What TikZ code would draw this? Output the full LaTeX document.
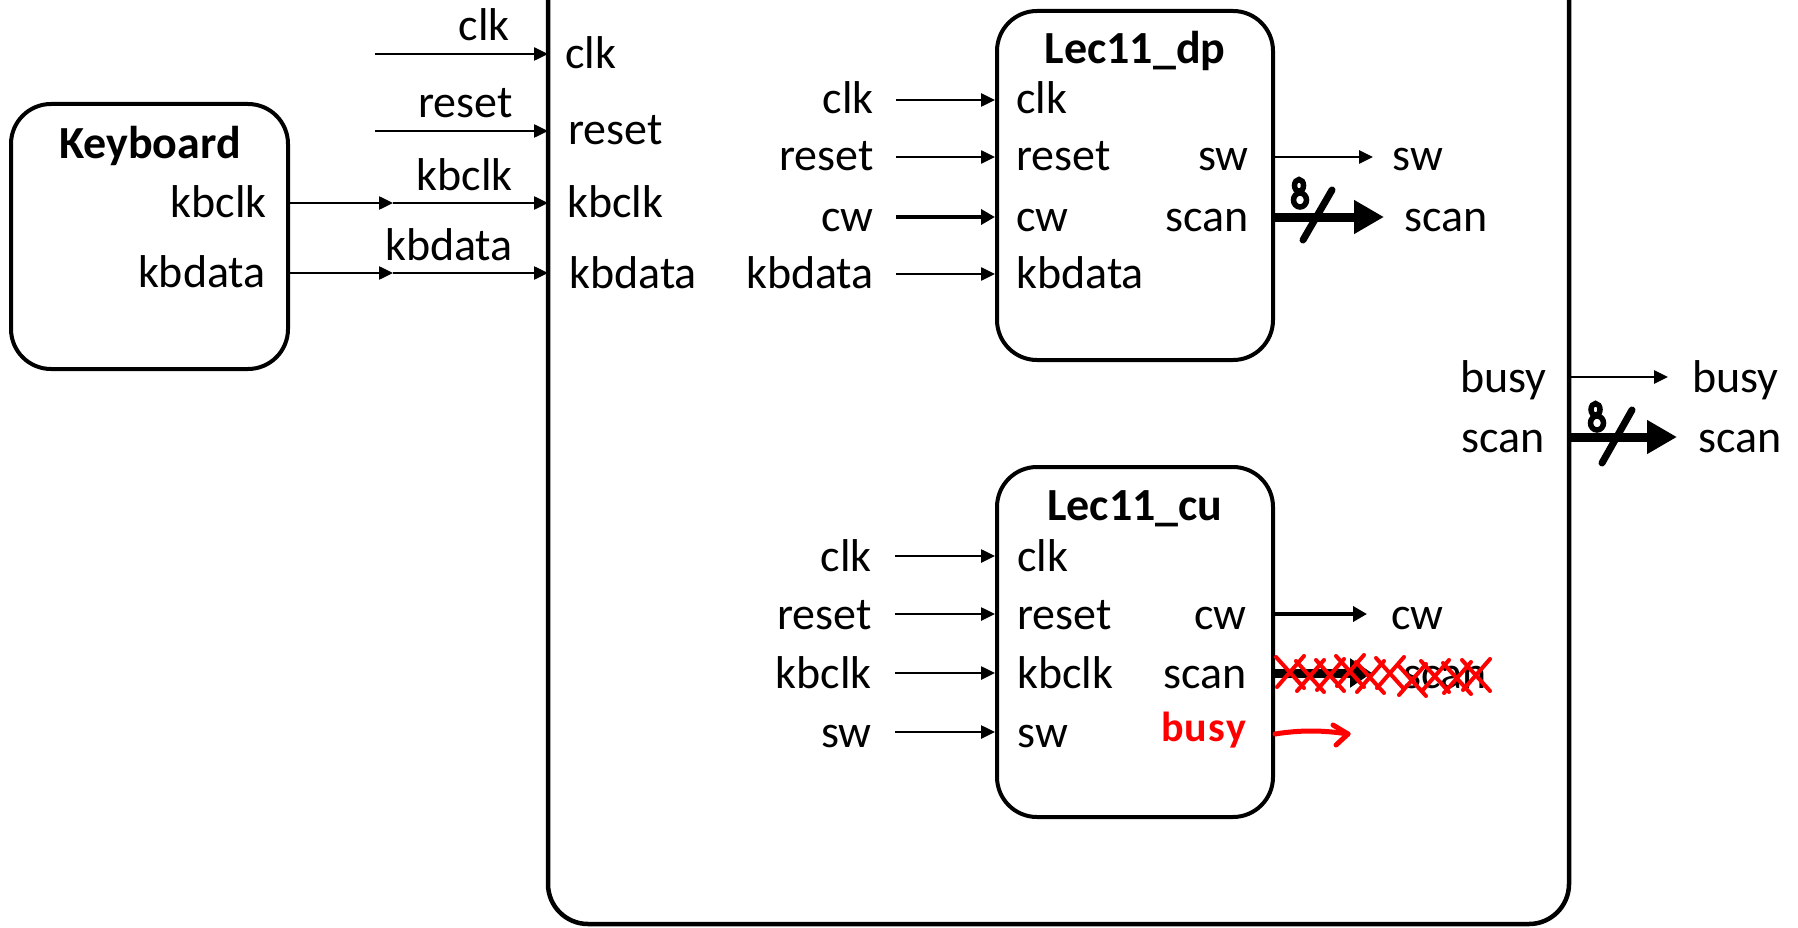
\documentclass[tikz,border=0pt]{standalone}
\usepackage{fontspec}
\setmainfont{Carlito}
\usetikzlibrary{arrows.meta}
\begin{document}
\begin{tikzpicture}[x=1pt,y=-1pt,
  txt/.style={font=\fontsize{46}{50}\selectfont, inner sep=0pt},
  ttl/.style={font=\fontsize{46}{50}\selectfont\bfseries, inner sep=0pt},
  box/.style={draw, line width=4pt, rounded corners=40pt, inner sep=0pt},
  thinw/.style={line width=2.5pt, -{Triangle[length=14pt,width=13pt]}},
  medw/.style={line width=4.5pt, -{Triangle[length=14pt,width=15pt]}},
  busw/.style={line width=9pt, -{Triangle[length=30pt,width=32pt]}},
  handw/.style={line width=7pt, line cap=round},
  eight/.style={line width=5.5pt},
  redx/.style={red, line width=4pt, line cap=round},
]
\useasboundingbox (0,0) rectangle (1798,928);

% outer module box (open at the top)
\draw[line width=4.5pt, rounded corners=40pt] (548,-30) -- (548,924) -- (1569,924) -- (1569,-30);

% ---------------- Keyboard ----------------
\node[box, minimum width=277pt, minimum height=265pt] (kb) at (149.5,236.5) {};
\node[ttl, anchor=base] (kbt) at (150,159) {Keyboard};
\node[txt, anchor=base east] (kbo1) at (267,218) {kbclk};
\node[txt, anchor=base east] (kbo2) at (266,287) {kbdata};

% top-level inputs
\coordinate (clkS) at (375,54);   \coordinate (clkB) at (548,54);
\coordinate (rstS) at (375,131);  \coordinate (rstB) at (548,131);
\coordinate (kcM) at (393,203);   \coordinate (kcB) at (548,203);
\coordinate (kdM) at (393,273);   \coordinate (kdB) at (548,273);
\draw[thinw] (clkS) -- (clkB);
\draw[thinw] (rstS) -- (rstB);
\draw[thinw] (kb.east |- kcM) -- (kcM);
\draw[thinw] (kcM) -- (kcB);
\draw[thinw] (kb.east |- kdM) -- (kdM);
\draw[thinw] (kdM) -- (kdB);
\node[txt, anchor=base east] (w1) at (510,41) {clk};
\node[txt, anchor=base east] (w2) at (513,118) {reset};
\node[txt, anchor=base east] (w3) at (513,191) {kbclk};
\node[txt, anchor=base east] (w4) at (513,260) {kbdata};

\node[txt, anchor=base west] (p1) at (565,69) {clk};
\node[txt, anchor=base west] (p2) at (568,145) {reset};
\node[txt, anchor=base west] (p3) at (567,218) {kbclk};
\node[txt, anchor=base west] (p4) at (569,288) {kbdata};

% ---------------- Lec11_dp ----------------
\node[box, minimum width=276pt, minimum height=349pt] (dp) at (1135,185.5) {};
\node[ttl, anchor=base] (dpt) at (1135,64) {Lec11\_dp};
\foreach \y/\t/\n in {100/clk/a,157/reset/b,217/cw/c,274/kbdata/d}{
  \node[txt, anchor=base east] (dpl\n) at (874,\y+14) {\t};
  \node[txt, anchor=base west] (dpi\n) at (1016,\y+14) {\t};
  \coordinate (dps\n) at (896,\y);
}
\draw[thinw] (dpsa) -- (dp.west |- dpsa);
\draw[thinw] (dpsb) -- (dp.west |- dpsb);
\draw[medw]  (dpsc) -- (dp.west |- dpsc);
\draw[thinw] (dpsd) -- (dp.west |- dpsd);
\node[txt, anchor=base east] (dpo1) at (1249,171) {sw};
\node[txt, anchor=base east] (dpo2) at (1249,231) {scan};
\coordinate (dpswE) at (1373,157);
\coordinate (dpscE) at (1384,217);
\draw[thinw] (dp.east |- dpswE) -- (dpswE);
\draw[busw] (dp.east |- dpscE) -- (dpscE);
\node[txt, anchor=base west] (dpx1) at (1392,171) {sw};
\node[txt, anchor=base west] (dpx2) at (1404,231) {scan};
\draw[eight] (1299,185.5) ellipse [x radius=4.5pt, y radius=6pt];
\draw[eight] (1300,200) ellipse [x radius=6.5pt, y radius=7pt];
\draw[handw] (1303,240) -- (1332,190);

% ---------------- right outputs of module ----------------
\node[txt, anchor=base east] (mo1) at (1547,392) {busy};
\node[txt, anchor=base east] (mo2) at (1545,452) {scan};
\coordinate (moB) at (1668,377);
\coordinate (moS) at (1677,437);
\draw[thinw] (1569,377) -- (moB);
\draw[busw] (1569,437) -- (moS);
\node[txt, anchor=base west] (mx1) at (1692,392) {busy};
\node[txt, anchor=base west] (mx2) at (1698,452) {scan};
\draw[eight] (1595.5,409.5) ellipse [x radius=4.5pt, y radius=6pt];
\draw[eight] (1597,423) ellipse [x radius=6.5pt, y radius=7pt];
\draw[handw] (1602,463) -- (1632,410);

% ---------------- Lec11_cu ----------------
\node[box, minimum width=276pt, minimum height=350pt] (cu) at (1135,642) {};
\node[ttl, anchor=base] (cut) at (1135,520) {Lec11\_cu};
\foreach \y/\t/\n in {556/clk/a,614/reset/b,673/kbclk/c,732/sw/d}{
  \node[txt, anchor=base east] (cul\n) at (872,\y+15) {\t};
  \node[txt, anchor=base west] (cui\n) at (1017,\y+15) {\t};
  \coordinate (cus\n) at (895,\y);
  \draw[thinw] (cus\n) -- (cu.west |- cus\n);
}
\node[txt, anchor=base east] (cuo1) at (1247,629) {cw};
\node[txt, anchor=base east] (cuo2) at (1247,688) {scan};
\coordinate (cucwE) at (1367,614);
\coordinate (cuscE) at (1372,673);
\draw[medw] (cu.east |- cucwE) -- (cucwE);
\draw[line width=9pt, -{Triangle[length=22pt,width=28pt]}] (cu.east |- cuscE) -- (cuscE);
\node[txt, anchor=base west] (cux1) at (1391,629) {cw};
\node[txt, anchor=base west] (cux2) at (1403,688) {scan};

% red corrections
\foreach \cx/\cy in {1290/672,1310/676,1330/675,1350/671,1370/677,1390/673,1412/680,1435/676,1457/678,1476/675}{
  \draw[redx] (\cx-14,\cy-15) -- (\cx+14,\cy+16);
  \draw[redx] (\cx-13,\cy+15) -- (\cx+14,\cy-16);
}
\node[text=red, font=\fontsize{42}{44}\selectfont\bfseries, anchor=base west, inner sep=0pt] (busyr) at (1161,741) {b\kern1pt u\kern1pt s\kern1pt y};
\coordinate (rbE) at (1348,734);
\draw[red, line width=5pt, line cap=round] (cu.east |- 0,734) .. controls (1300,730) and (1322,730) .. (rbE);
\draw[red, line width=5pt, line cap=round, line join=round] (1333,725) -- (rbE) -- (1336,745);
\end{tikzpicture}
\end{document}
